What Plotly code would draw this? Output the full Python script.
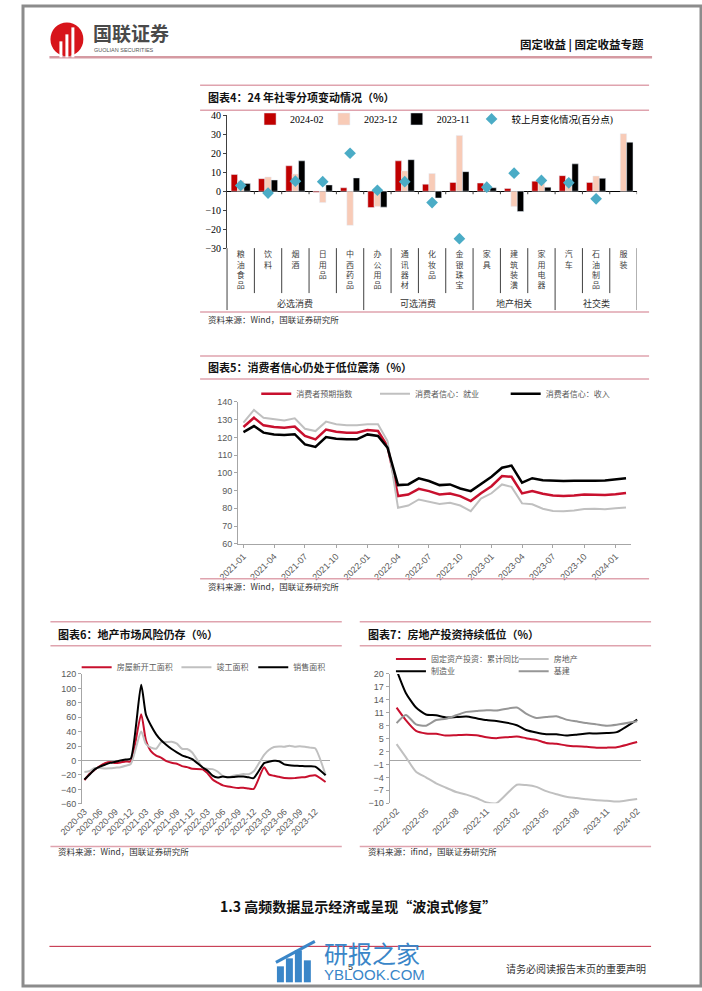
import plotly.graph_objects as go
import pandas as pd

W, H = 702, 991
# The captured picture maps page (x, y) to about (22.5 + 0.968*x, 4.6 + 0.99*y); positions below
# are given in picture pixels of the reference and converted back to page pixels.
def XP(px): return max(0.0, (px - 22.5) / 0.968)
def X(px): return XP(px) / W
def YP(py): return max(0.0, (py - 4.6) / 0.99)
def Y(py): return 1 - YP(py) / H

# ---------------- 图表4：24年社零分项变动情况 ----------------
cats4 = ["粮油食品", "饮料", "烟酒", "日用品", "中西药品", "办公用品", "通讯器材",
         "化妆品", "金银珠宝", "家具", "建筑装潢", "家用电器", "汽车", "石油制品", "服装"]
groups4 = ["必选消费", "可选消费", "地产相关", "社交类"]
group_sizes4 = [5, 4, 3, 3]
yoy_2024_02 = [8.8, 6.6, 13.4, -0.5, 1.8, -8.6, 16.0, 3.7, 4.6, 4.3, 1.4, 5.3, 8.2, 4.6, None]
yoy_2023_12 = [5.5, 7.5, 9.0, -6.0, -18.0, -8.0, 10.7, 9.3, 29.4, 3.0, -8.0, 4.5, 6.5, 8.0, 30.3]
yoy_2023_11 = [4.0, 5.9, 16.0, 3.3, 7.0, -8.4, 16.6, -3.6, 10.3, 1.8, -10.7, 2.1, 14.4, 6.8, 25.8]
chg_pp = [3.0, -1.0, 5.3, 5.0, 20.0, 0.5, 5.0, -6.0, -25.0, 2.1, 9.5, 5.7, 4.4, -4.0, None]

# ---------------- 图表5：消费者信心 ----------------
months5 = [d.strftime("%Y-%m") for d in pd.date_range("2021-01-01", "2024-02-01", freq="MS")]
expect5 = [125.9, 131.1, 126.8, 125.9, 125.5, 126.1, 120.8, 118.9, 124.4, 123.2, 122.7, 122.7,
           124.2, 123.6, 115.1, 86.9, 87.8, 91.0, 89.7, 87.8, 88.4, 86.9, 84.1, 88.5,
           92.5, 98.2, 97.8, 88.4, 89.7, 88.2, 87.3, 87.0, 87.3, 87.8, 87.6, 87.5,
           88.0, 88.7]
employ5 = [128.3, 135.5, 131.1, 130.2, 129.6, 130.8, 124.9, 123.6, 128.9, 127.4, 126.8, 126.8,
           127.4, 127.4, 118.0, 80.3, 81.6, 85.0, 83.7, 82.5, 83.1, 81.6, 78.4, 85.5,
           88.5, 93.5, 92.1, 82.8, 82.3, 79.8, 78.5, 78.3, 78.8, 79.6, 79.7, 79.5,
           80.0, 80.5]
income5 = [123.0, 126.4, 122.7, 121.7, 121.4, 121.8, 116.1, 114.6, 120.2, 119.3, 118.9, 118.9,
           121.7, 120.8, 114.2, 93.1, 93.5, 96.9, 95.4, 93.1, 93.5, 91.2, 89.7, 93.6,
           97.8, 102.9, 104.1, 94.5, 97.0, 95.8, 95.5, 95.4, 95.6, 95.8, 95.6, 95.7,
           96.2, 97.0]

# ---------------- 图表6：地产市场风险仍存 ----------------
months6 = [m for m in (d.strftime("%Y-%m") for d in pd.date_range("2020-03-01", "2024-02-01", freq="MS"))
           if not m.endswith("-01")]
newstart6 = [-27.2, -18.4, -12.8, -7.6, -3.6, -1.9, -3.4, -2.6, -1.2, -1.2,
             64.3, 28.2, 12.8, 6.9, 3.8, -0.9, -3.2, -4.5, -7.7, -9.1, -11.4,
             -12.2, -17.5, -26.3, -30.6, -34.4, -36.1, -37.2, -38.0, -37.8, -38.9, -39.4,
             -9.4, -19.2, -21.2, -22.6, -24.3, -24.5, -24.4, -23.4, -23.2, -21.2, -20.4,
             -29.7]
complete6 = [-15.8, -14.5, -10.4, -10.5, -11.0, -10.8, -9.9, -9.2, -7.3, -4.9,
             40.4, 22.9, 17.9, 16.4, 25.7, 25.7, 26.0, 23.4, 16.3, 16.0, 11.2,
             -9.7, -11.5, -11.9, -15.3, -21.5, -23.3, -21.1, -19.9, -18.7, -19.0, -15.0,
             8.0, 14.7, 18.8, 19.6, 19.0, 20.5, 19.2, 19.8, 19.0, 17.9, 17.0,
             -20.2]
sales6 = [-26.3, -19.3, -12.3, -8.4, -5.8, -3.3, -1.8, 0.0, 1.3, 2.6,
          104.9, 63.8, 48.1, 36.3, 27.7, 21.5, 15.9, 11.3, 7.2, 4.8, 1.9,
          -9.6, -13.8, -20.9, -23.6, -22.2, -23.1, -23.0, -22.2, -22.3, -23.3, -24.3,
          -3.6, -1.8, -0.4, -0.9, -5.3, -6.5, -7.1, -7.5, -7.8, -8.0, -8.5,
          -20.5]

# ---------------- 图表7：房地产投资持续低位 ----------------
months7 = [m for m in (d.strftime("%Y-%m") for d in pd.date_range("2022-02-01", "2024-02-01", freq="MS"))
           if not m.endswith("-01")]
fai7 = [12.2, 9.3, 6.8, 6.2, 6.1, 5.7, 5.8, 5.9, 5.8, 5.3, 5.1,
        5.5, 5.1, 4.7, 4.0, 3.8, 3.4, 3.2, 3.1, 2.9, 2.9, 3.0, 4.2]
realestate7 = [3.7, 0.7, -2.7, -4.0, -5.4, -6.4, -7.4, -8.0, -8.8, -9.8, -10.0,
               -5.7, -5.8, -6.2, -7.2, -7.9, -8.5, -8.8, -9.1, -9.3, -9.4, -9.6, -9.0]
mfg7 = [20.9, 15.6, 12.2, 10.6, 10.4, 9.9, 10.0, 10.1, 9.7, 9.3, 9.1,
        8.1, 7.0, 6.4, 6.0, 6.0, 5.7, 5.9, 6.2, 6.2, 6.3, 6.5, 9.4]
infra7 = [8.6, 10.5, 8.3, 8.0, 9.3, 9.6, 10.4, 11.2, 11.4, 11.6, 11.5,
          12.2, 10.8, 9.8, 10.0, 10.2, 9.4, 9.0, 8.6, 8.3, 8.0, 8.2, 9.0]

# ---------------- Styles ----------------
RED = "#C00000"
CRIMSON = "#C8102E"
PINKBAR = "#F8CBB7"
TEAL = "#4BACC6"
LGRAY = "#C0C0C0"
MGRAY = "#969696"
AXIS = "#A6A6A6"
PINKLINE = "#DFA3AE"
CJK = "Noto Sans CJK SC"
SERIF = "Liberation Serif"
SANS = "Liberation Sans"

fig = go.Figure()

# chart 4 traces
fig.add_bar(x=cats4, y=yoy_2024_02, name="2024-02", marker_color=RED, xaxis="x", yaxis="y", legend="legend")
fig.add_bar(x=cats4, y=yoy_2023_12, name="2023-12", marker_color=PINKBAR, xaxis="x", yaxis="y", legend="legend2")
fig.add_bar(x=cats4, y=yoy_2023_11, name="2023-11", marker_color="#000000", xaxis="x", yaxis="y", legend="legend3")
fig.add_scatter(x=cats4, y=chg_pp, mode="markers", name="较上月变化情况(百分点)",
                marker=dict(symbol="diamond", size=9, color=TEAL), xaxis="x", yaxis="y", legend="legend4")

# chart 5 traces
for vals, nm, col, w, lg in [(expect5, "消费者预期指数", CRIMSON, 2.5, "legend5"),
                             (employ5, "消费者信心：就业", LGRAY, 2, "legend6"),
                             (income5, "消费者信心：收入", "#000000", 2.5, "legend7")]:
    fig.add_scatter(x=months5, y=vals, mode="lines", name=nm, line=dict(color=col, width=w),
                    xaxis="x2", yaxis="y2", legend=lg)

# chart 6 traces
for vals, nm, col, lg in [(newstart6, "房屋新开工面积", CRIMSON, "legend8"),
                          (complete6, "竣工面积", LGRAY, "legend9"),
                          (sales6, "销售面积", "#000000", "legend10")]:
    fig.add_scatter(x=months6, y=vals, mode="lines", name=nm,
                    line=dict(color=col, width=2, shape="spline", smoothing=0.6),
                    xaxis="x3", yaxis="y3", legend=lg)

# chart 7 traces
for vals, nm, col, lg in [(fai7, "固定资产投资：累计同比", CRIMSON, "legend11"),
                          (realestate7, "房地产", LGRAY, "legend12"),
                          (mfg7, "制造业", "#000000", "legend13"),
                          (infra7, "基建", MGRAY, "legend14")]:
    fig.add_scatter(x=months7, y=vals, mode="lines", name=nm,
                    line=dict(color=col, width=2, shape="spline", smoothing=0.6),
                    xaxis="x4", yaxis="y4", legend=lg)

def leg(text_px, y_px, size, family=CJK, color="#595959", shift=40):
    return dict(x=(XP(text_px) - shift) / W, y=Y(y_px), xanchor="left", yanchor="middle",
                orientation="h", bgcolor="rgba(0,0,0,0)", borderwidth=0,
                font=dict(family=family, size=size, color=color))

legends = {
    "legend": leg(283, 117.7, 10, SERIF, "#000", 34),
    "legend2": leg(357, 117.7, 10, SERIF, "#000", 34),
    "legend3": leg(430, 117.7, 10, SERIF, "#000", 34),
    "legend4": leg(505, 117.7, 9.5, SERIF + ", " + CJK, "#000", 34),
    "legend5": leg(295, 392.7, 8),
    "legend6": leg(414, 392.7, 8),
    "legend7": leg(545, 392.7, 8),
    "legend8": leg(115, 666.7, 8),
    "legend9": leg(215, 666.7, 8),
    "legend10": leg(292, 666.7, 8),
    "legend11": leg(430, 658.3, 8),
    "legend12": leg(553, 658.3, 8),
    "legend13": leg(430, 670.5, 8),
    "legend14": leg(553, 670.5, 8),
}

tickfont_sans = dict(family=SANS, size=9, color="#595959")

layout_axes = dict(
    # chart 4
    xaxis=dict(domain=[X(227), X(638)], anchor="y", type="category", range=[-0.5, 14.5],
               tickvals=cats4, ticktext=["<br>".join(c) for c in cats4], tickangle=0,
               ticks="", showline=False, showgrid=False, zeroline=False,
               tickfont=dict(family=CJK, size=8, color="#404040")),
    yaxis=dict(domain=[Y(247), Y(114)], anchor="x", range=[-30, 40], dtick=10, tick0=0,
               showline=True, linecolor="#404040", linewidth=1, ticks="outside", ticklen=3,
               tickcolor="#404040", showgrid=False, zeroline=True, zerolinecolor="#000000",
               zerolinewidth=1, tickfont=dict(family=SERIF, size=10, color="#000")),
    # chart 5
    xaxis2=dict(domain=[X(238), X(632)], anchor="y2", type="date",
                range=["2020-12-16", "2024-02-16"], tick0="2021-01-01", dtick="M3",
                tickformat="%Y-%m", tickangle=-45, ticks="outside", ticklen=3,
                showline=True, linecolor=AXIS, tickcolor=AXIS, showgrid=False, zeroline=False,
                tickfont=tickfont_sans),
    yaxis2=dict(domain=[Y(543), Y(401)], anchor="x2", range=[60, 140], dtick=10,
                showline=True, linecolor=AXIS, ticks="outside", ticklen=3, tickcolor=AXIS,
                showgrid=False, zeroline=False, tickfont=tickfont_sans),
    # chart 6
    xaxis3=dict(domain=[X(81.7), X(330)], anchor="y3", type="date",
                range=["2020-02-16", "2024-02-26"], tick0="2020-03-01", dtick="M3",
                tickformat="%Y-%m", tickangle=-45, ticks="", showline=False,
                showgrid=False, zeroline=False, tickfont=tickfont_sans),
    yaxis3=dict(domain=[Y(803.3), Y(673.3)], anchor="x3", range=[-60, 120], dtick=20,
                showline=True, linecolor=AXIS, ticks="outside", ticklen=3, tickcolor=AXIS,
                showgrid=False, zeroline=True, zerolinecolor=AXIS, zerolinewidth=1,
                tickfont=tickfont_sans),
    # chart 7
    xaxis4=dict(domain=[X(390), X(642)], anchor="y4", type="date",
                range=["2022-01-11", "2024-02-13"], tick0="2022-02-01", dtick="M3",
                tickformat="%Y-%m", tickangle=-45, ticks="", showline=False,
                showgrid=False, zeroline=False, tickfont=tickfont_sans),
    yaxis4=dict(domain=[Y(802.7), Y(673.3)], anchor="x4", range=[-10, 20], dtick=3, tick0=-10,
                showline=True, linecolor=AXIS, ticks="outside", ticklen=3, tickcolor=AXIS,
                showgrid=False, zeroline=True, zerolinecolor=AXIS, zerolinewidth=1,
                tickfont=tickfont_sans),
)

# ---------------- Shapes ----------------
shapes = []
def hline(y, x0, x1, color, width=1):
    shapes.append(dict(type="line", xref="paper", yref="paper", x0=X(x0), x1=X(x1),
                       y0=Y(y), y1=Y(y), line=dict(color=color, width=width)))
def vline(x, y0, y1, color, width=1):
    shapes.append(dict(type="line", xref="paper", yref="paper", x0=X(x), x1=X(x),
                       y0=Y(y0), y1=Y(y1), line=dict(color=color, width=width)))

# page frame
shapes.append(dict(type="rect", xref="paper", yref="paper", x0=0, x1=1, y0=0, y1=1,
                   line=dict(color="#8C8C8C", width=3)))
# header line
hline(56, 49, 653, "#D59AA2", 2.5)
# chart frames (pink rules)
for y in (84, 109, 311):
    hline(y, 200, 650, PINKLINE, 1.5)
for y in (355, 378, 578):
    hline(y, 200, 650, PINKLINE, 1.5)
for y in (621, 645, 846):
    hline(y, 50, 342, PINKLINE, 1.5)
    hline(y, 360, 652, PINKLINE, 1.5)
# footer line
hline(946, 49, 652, "#C0203A", 1)

# chart 4 category separators below plot, and small ticks on the zero line
vline(227, 247, 309, "#404040", 1)
bounds = []
acc = 0
for s in group_sizes4:
    acc += s
    bounds.append(acc - 0.5)
for i in range(len(cats4)):
    b = i + 0.5
    long_ = b in bounds
    shapes.append(dict(type="line", xref="x", yref="paper", x0=b, x1=b,
                       y0=Y(247), y1=Y(309 if long_ else 292),
                       line=dict(color="#404040", width=1)))
    shapes.append(dict(type="line", xref="x", yref="y", x0=b, x1=b, y0=0, y1=-1.6,
                       line=dict(color="#404040", width=1)))

# logo (国联证券)
shapes.append(dict(type="circle", xref="paper", yref="paper", x0=X(50), x1=X(83), y0=Y(55), y1=Y(21),
                   fillcolor="#D7141A", line=dict(width=0)))
for x0, ytop in [(59, 40), (65, 33), (71, 26)]:
    shapes.append(dict(type="rect", xref="paper", yref="paper", x0=X(x0), x1=X(x0 + 3),
                       y0=Y(56), y1=Y(ytop), fillcolor="white", line=dict(width=0)))
# watermark logo bars
for x0, ytop in [(277, 966), (286, 958), (295, 950), (304, 960)]:
    shapes.append(dict(type="rect", xref="paper", yref="paper", x0=X(x0), x1=X(x0 + 7),
                       y0=Y(982), y1=Y(ytop), fillcolor="#3A86C8", line=dict(width=0)))
shapes.append(dict(type="line", xref="paper", yref="paper", x0=X(276), x1=X(315), y0=Y(962), y1=Y(941),
                   line=dict(color="#3A86C8", width=3)))

# ---------------- Annotations ----------------
ann = []
def text(x, y, s, size, color="#222", family=CJK, xanchor="left", bold=False, xref="paper"):
    ann.append(dict(x=x if xref != "paper" else X(x), y=Y(y), xref=xref, yref="paper",
                    text=f"<b>{s}</b>" if bold else s, showarrow=False, xanchor=xanchor,
                    yanchor="middle", font=dict(family=family, size=size, color=color)))

# header
text(91, 31, "国联证券", 19, "#4A4A4A", CJK, bold=True)
text(92, 49, "GUOLIAN SECURITIES", 5.5, "#555", SANS)
text(647, 43, "固定收益 | 固定收益专题", 11.5, "#111", CJK, "right", bold=True)

# chart titles
text(206, 96, "图表4：24 年社零分项变动情况（%）", 11, "#111", bold=True)
text(206, 366, "图表5：消费者信心仍处于低位震荡（%）", 11, "#111", bold=True)
text(56, 633, "图表6：地产市场风险仍存（%）", 11, "#111", bold=True)
text(366, 633, "图表7：房地产投资持续低位（%）", 11, "#111", bold=True)

# sources
text(206, 318, "资料来源：Wind，国联证券研究所", 8.5, "#333")
text(206, 585, "资料来源：Wind，国联证券研究所", 8.5, "#333")
text(56, 851, "资料来源：Wind，国联证券研究所", 8.5, "#333")
text(366, 851, "资料来源：ifind，国联证券研究所", 8.5, "#333")

# chart 4 group labels
start = 0
for g, s in zip(groups4, group_sizes4):
    text(start + (s - 1) / 2, 302, g, 9, "#333", xanchor="center", xref="x")
    start += s

# footer
text(358, 906, "1.3 高频数据显示经济或呈现“波浪式修复”", 14, "#111", xanchor="center", bold=True)
text(351, 967, "5", 9, "#333", SANS, "center")
text(649, 968, "请务必阅读报告末页的重要声明", 10, "#333", xanchor="right")
text(322, 952, "研报之家", 24, "#3A86C8", CJK, bold=False)
text(322, 974, "YBLOOK.COM", 15, "#3A86C8", SANS)

fig.update_layout(
    width=W, height=H, margin=dict(l=0, r=0, t=0, b=0),
    paper_bgcolor="white", plot_bgcolor="rgba(0,0,0,0)",
    font=dict(family=CJK, size=9, color="#333"),
    barmode="group", bargap=0.3, bargroupgap=0,
    showlegend=True, shapes=shapes, annotations=ann,
    **layout_axes, **legends,
)

fig.write_html(
    "out.html",
    config={"displayModeBar": False, "staticPlot": True},
    post_script=(
        "document.documentElement.style.margin='0';document.documentElement.style.padding='0';"
        "document.body.style.margin='0';document.body.style.padding='0';"
        "document.body.style.overflow='hidden';document.documentElement.style.overflow='hidden';"
        "var gd=document.getElementById('{plot_id}');gd.style.position='absolute';"
        "gd.style.left='0px';gd.style.top='0px';"
    ),
)
